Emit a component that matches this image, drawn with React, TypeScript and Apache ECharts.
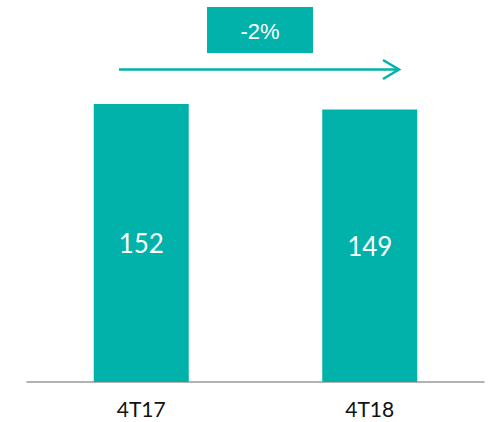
import React, { useEffect, useRef } from "react";
import * as echarts from "echarts";

const categories = ["4T17", "4T18"];
const values = [152, 149];
const changeLabel = "-2%";

const TEAL = "#00B2A9";

export default function App() {
  const ref = useRef<HTMLDivElement>(null);
  useEffect(() => {
    if (!ref.current) return;
    const chart = echarts.init(ref.current, undefined, { renderer: "svg" });
    chart.setOption({
      animation: false,
      grid: { left: 27, right: 6, top: 104, bottom: 40 },
      xAxis: {
        type: "category",
        data: categories,
        axisLine: { lineStyle: { color: "#9a9a9a", width: 1.5 } },
        axisTick: { show: false },
        axisLabel: {
          color: "#111",
          fontSize: 21,
          fontFamily: "Lato",
          margin: 16,
        },
      },
      yAxis: {
        type: "value",
        min: 0,
        max: 152,
        show: false,
        splitLine: { show: false },
      },
      series: [
        {
          type: "bar",
          data: values,
          barWidth: 95,
          itemStyle: { color: TEAL },
          label: {
            show: true,
            position: "inside",
            color: "#fff",
            fontSize: 26,
            fontFamily: "Lato",
          },
        },
      ],
      graphic: [
        {
          type: "rect",
          shape: { x: 207, y: 7, width: 106, height: 46 },
          style: { fill: TEAL },
        },
        {
          type: "text",
          x: 260,
          y: 31,
          style: {
            text: changeLabel,
            fill: "#fff",
            font: "22px 'Liberation Sans', Arial, sans-serif",
            textAlign: "center",
            textVerticalAlign: "middle",
          },
        },
        {
          type: "line",
          shape: { x1: 119, y1: 69.5, x2: 399, y2: 69.5 },
          style: { stroke: TEAL, lineWidth: 2.5 },
        },
        {
          type: "polyline",
          shape: { points: [[383, 60], [399, 69.5], [383, 79]] },
          style: { stroke: TEAL, lineWidth: 2.5, fill: null },
        },
      ],
    });
    return () => chart.dispose();
  }, []);
  return <div ref={ref} style={{ width: 490, height: 422, position: "absolute", left: 0, top: 0 }} />;
}
